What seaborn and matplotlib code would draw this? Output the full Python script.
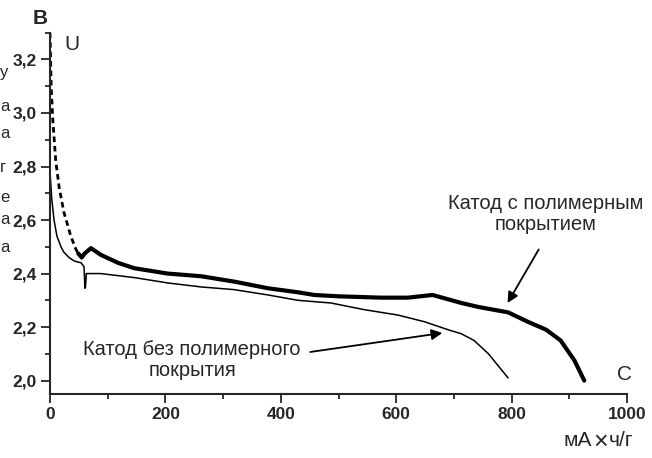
import matplotlib
matplotlib.use("Agg")
import matplotlib.pyplot as plt
import seaborn as sns
import pandas as pd
from matplotlib.ticker import MultipleLocator, FuncFormatter

# Uncoated cathode (thin line)
x_plain = [0, 3, 7, 12, 19, 24, 33, 42, 54, 59, 60.5, 61.5, 63, 70, 88, 146, 204, 262,
           319, 378, 430, 487, 545, 603, 649, 690, 713, 735, 760, 775, 794]
y_plain = [2.78, 2.68, 2.60, 2.54, 2.50, 2.48, 2.46, 2.447, 2.44, 2.425, 2.345, 2.35, 2.40,
           2.40, 2.40, 2.385, 2.365, 2.35, 2.34, 2.32, 2.30, 2.29, 2.265, 2.245, 2.22,
           2.19, 2.175, 2.15, 2.10, 2.06, 2.01]

# Coated cathode, initial dashed part
x_coat_dash = [0, 2, 5, 10, 16, 24, 36, 45, 49]
y_coat_dash = [3.30, 3.10, 2.97, 2.82, 2.72, 2.63, 2.54, 2.49, 2.475]

# Coated cathode, solid thick part
x_coat = [49, 55, 60, 71, 88, 118, 146, 204, 262, 319, 378, 430, 458, 500, 574, 620,
          663, 713, 743, 794, 828, 860, 885, 909, 926]
y_coat = [2.475, 2.46, 2.475, 2.495, 2.47, 2.44, 2.42, 2.40, 2.39, 2.37, 2.345, 2.33,
          2.32, 2.315, 2.31, 2.31, 2.32, 2.29, 2.275, 2.255, 2.22, 2.19, 2.15, 2.075, 2.0]

label_coated = "Катод с полимерным\nпокрытием"
label_plain = "Катод без полимерного\nпокрытия"

sns.set_style("ticks")
plt.rcParams['font.family'] = ['Liberation Sans', 'DejaVu Sans']

fig = plt.figure(figsize=(6.52, 4.58), dpi=100)
ax = fig.add_axes([50 / 652, 1 - 394 / 458, (627 - 50) / 652, (394 - 32.7) / 458])

df_plain = pd.DataFrame({"x": x_plain, "y": y_plain})
df_dash = pd.DataFrame({"x": x_coat_dash, "y": y_coat_dash})
df_coat = pd.DataFrame({"x": x_coat, "y": y_coat})

sns.lineplot(data=df_plain, x="x", y="y", ax=ax, color="black", lw=1.1, sort=False,
             estimator=None)
sns.lineplot(data=df_dash, x="x", y="y", ax=ax, color="black", lw=2.0, sort=False,
             estimator=None, linestyle=(0, (2.0, 1.4)))
sns.lineplot(data=df_coat, x="x", y="y", ax=ax, color="black", lw=3.0, sort=False,
             estimator=None)

ax.set_xlim(0, 1000)
ax.set_ylim(1.95, 3.30)
ax.set_xlabel("")
ax.set_ylabel("")
sns.despine(ax=ax)
for s in ["left", "bottom"]:
    ax.spines[s].set_linewidth(1.5)

ax.xaxis.set_major_locator(MultipleLocator(200))
ax.xaxis.set_minor_locator(MultipleLocator(100))
ax.yaxis.set_major_locator(MultipleLocator(0.2))
ax.yaxis.set_minor_locator(MultipleLocator(0.1))
ax.yaxis.set_major_formatter(FuncFormatter(lambda v, p: f"{v:.1f}".replace(".", ",")))
ax.tick_params(axis="both", which="major", direction="out", length=6.5, width=1.3,
               labelsize=12.5, pad=3)
ax.tick_params(axis="both", which="minor", direction="out", length=3.5, width=1.3)
for lab in ax.get_xticklabels() + ax.get_yticklabels():
    lab.set_fontweight("bold")

# Axis letters
fig.text(40 / 652, 1 - 18 / 458, "B", fontsize=15, fontweight="bold", ha="center", va="center")
fig.text(72 / 652, 1 - 45 / 458, "U", fontsize=15, ha="center", va="center")
fig.text(625 / 652, 1 - 374 / 458, "C", fontsize=15, ha="center", va="center")
yb = 1 - 446 / 458
fig.text(592 / 652, yb, "мА", fontsize=15, ha="right", va="baseline")
fig.text(600.5 / 652, yb - 3 / 458, "×", fontsize=18, ha="center", va="baseline")
fig.text(609 / 652, yb, "ч/г", fontsize=15, ha="left", va="baseline")

# Annotations
ax.text(546 / 652, 1 - 214 / 458, label_coated, fontsize=14.5, ha="center", va="center",
        linespacing=1.15, transform=fig.transFigure)
ax.annotate("", xy=(793, 2.29), xytext=(847, 2.49),
            arrowprops=dict(arrowstyle="-|>", color="black", lw=1.3,
                            mutation_scale=16, shrinkA=0, shrinkB=0))
ax.annotate("", xy=(680, 2.178), xytext=(451, 2.107),
            arrowprops=dict(arrowstyle="-|>", color="black", lw=1.3,
                            mutation_scale=16, shrinkA=0, shrinkB=0))
ax.text(192 / 652, 1 - 360 / 458, label_plain, fontsize=14.5, ha="center", va="center",
        linespacing=1.15, transform=fig.transFigure)

# Fragments of neighbouring text at the left edge
for yy, ch in [(72, "у"), (107, "а"), (133, "а"), (167, "г"), (197, "е"), (220, "а"), (247, "а")]:
    fig.text(0 / 652, 1 - yy / 458, ch, fontsize=12, ha="left", va="center")

fig.savefig("out.png", dpi=100)
